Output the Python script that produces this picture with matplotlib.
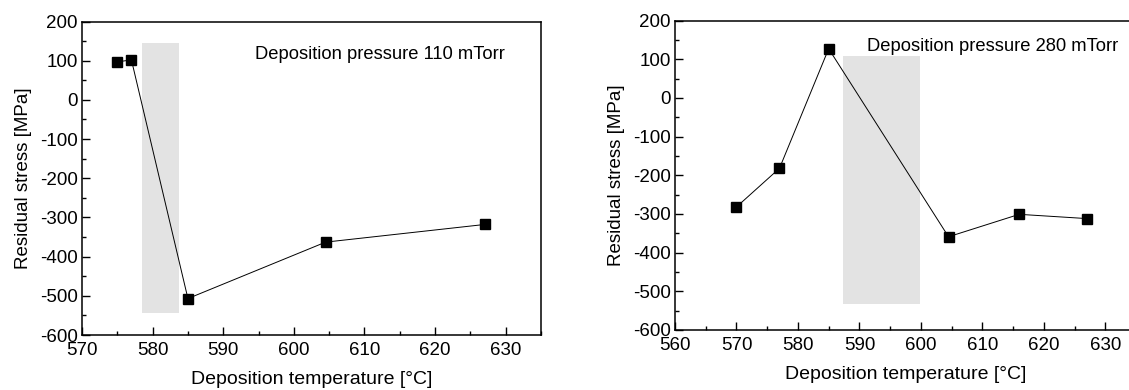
import matplotlib
matplotlib.use("Agg")
import matplotlib.pyplot as plt
from matplotlib.ticker import MultipleLocator

plt.rcParams['font.family'] = ['Liberation Sans', 'DejaVu Sans']
plt.rcParams['axes.unicode_minus'] = False

# Panel 1: deposition pressure 110 mTorr
temp_110 = [575, 577, 585, 604.5, 627]
stress_110 = [97, 102, -507, -363, -318]
shade_110 = (578.5, 583.7, -545, 145)

# Panel 2: deposition pressure 280 mTorr
temp_280 = [570, 577, 585, 604.5, 616, 627]
stress_280 = [-282, -182, 127, -359, -301, -312]
shade_280 = (587.3, 599.9, -533, 109)

title_110 = "Deposition pressure 110 mTorr"
title_280 = "Deposition pressure 280 mTorr"
xlabel = "Deposition temperature [°C]"
ylabel = "Residual stress [MPa]"

fig = plt.figure(figsize=(11.29, 3.90), dpi=100)
ax1 = fig.add_axes([82 / 1129, (390 - 335) / 390, 459 / 1129, 313.5 / 390])
ax2 = fig.add_axes([675 / 1129, (390 - 330) / 390, 461 / 1129, 309.5 / 390])

def style(ax, xlim, xmajor):
    ax.set_xlim(*xlim)
    ax.set_ylim(-600, 200)
    ax.xaxis.set_major_locator(MultipleLocator(xmajor))
    ax.xaxis.set_minor_locator(MultipleLocator(xmajor / 2))
    ax.yaxis.set_major_locator(MultipleLocator(100))
    ax.yaxis.set_minor_locator(MultipleLocator(50))
    ax.tick_params(which='both', direction='in', top=False, right=False,
                   labelsize=13.5, width=1.0)
    ax.tick_params(axis='x', which='major', pad=5)
    ax.tick_params(axis='y', which='major', pad=3)
    ax.tick_params(which='major', length=6)
    ax.tick_params(which='minor', length=3)
    for s in ax.spines.values():
        s.set_linewidth(1.1)
    ax.set_xlabel(xlabel, fontsize=14, labelpad=9)
    ax.set_ylabel(ylabel, fontsize=13.5, labelpad=6)

for ax, t, s, sh, title, xlim, tx, ty in [
    (ax1, temp_110, stress_110, shade_110, title_110, (570, 635), 594.5, 117),
    (ax2, temp_280, stress_280, shade_280, title_280, (560, 635), 591.3, 133),
]:
    x0, x1, y0, y1 = sh
    ax.fill_between([x0, x1], [y0, y0], [y1, y1], color='#e3e3e3', lw=0, zorder=1)
    ax.plot(t, s, color='black', lw=0.7, marker='s', markersize=7.5,
            markeredgecolor='black', markerfacecolor='black', zorder=3)
    ax.text(tx, ty, title, fontsize=13.2, va='center', ha='left', zorder=4)
    style(ax, xlim, 10)

fig.savefig("out.png", dpi=100)
